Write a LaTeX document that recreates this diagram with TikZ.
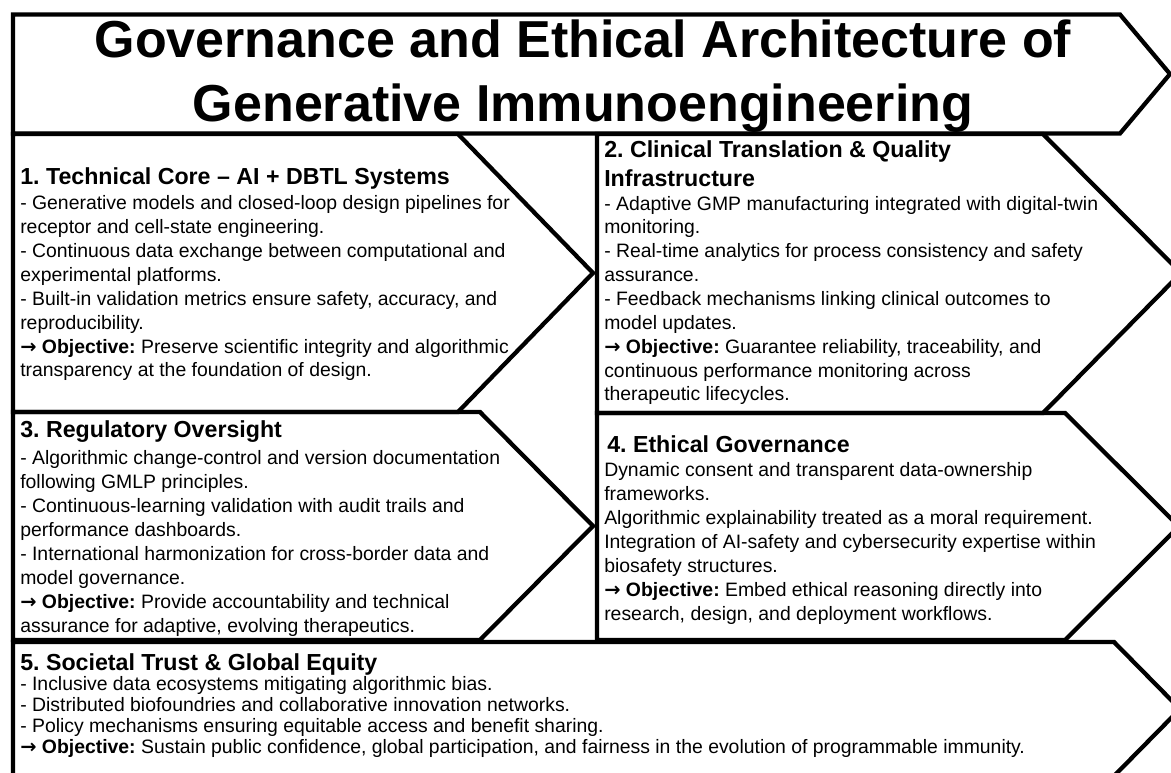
\documentclass[tikz,border=0pt]{standalone}
\usepackage{fontspec}
\setmainfont{Liberation Sans}
\newfontfamily\arrowfont{DejaVu Sans}
\newcommand{\objarrow}{{\arrowfont\bfseries →}}
\frenchspacing
\begin{document}
\begin{tikzpicture}[x=0.75pt,y=-0.75pt,
  panel/.style={draw=black,line width=3.2pt,line join=miter},
  titletext/.style={font=\fontsize{39}{48}\selectfont\bfseries,align=center,inner sep=0pt,anchor=base},
  headtext/.style={font=\fontsize{17.4}{21.75}\selectfont\bfseries,align=left,inner sep=0pt,anchor=base west},
  bodytext/.style={font=\fontsize{14.55}{17.9}\selectfont,align=left,inner sep=0pt,anchor=base west},
  tightbody/.style={bodytext,font=\fontsize{14.55}{15.75}\selectfont},
]
% canvas
\fill[white] (0,0) rectangle (1171,773);
\useasboundingbox (0,0) rectangle (1171,773);

% arrow-shaped panels
\draw[panel] (13,14.5) -- (1120,14.5) -- (1170,74) -- (1120,133.5) -- (13,133.5) -- cycle;
\draw[panel] (13,134) -- (458,134) -- (593,273) -- (458,412) -- (13,412) -- cycle;
\draw[panel] (597,134) -- (1043,134) -- (1181,273) -- (1043,413) -- (597,413) -- cycle;
\draw[panel] (13,412) -- (480,412) -- (593,526) -- (480,640) -- (13,640) -- cycle;
\draw[panel] (597,413) -- (1065,413) -- (1179,526.5) -- (1065,640) -- (597,640) -- cycle;
\draw[panel] (13,642) -- (1114,642) -- (1180,709) -- (1114,776) -- (13,776) -- cycle;

% multi-line nodes sit on the baseline of their last line
% title
\node[titletext] (title) at (583,122) {Governance and Ethical Architecture of\\Generative Immunoengineering};

% 1. technical core
\node[headtext] (h1) at (20,185) {1. Technical Core – AI + DBTL Systems};
\node[bodytext] (b1) at (20,377) {- Generative models and closed-loop design pipelines for\\
receptor and cell-state engineering.\\
- Continuous data exchange between computational and\\
experimental platforms.\\
- Built-in validation metrics ensure safety, accuracy, and\\
reproducibility.\\
\objarrow{} \textbf{Objective:} Preserve scientific integrity and algorithmic\\
transparency at the foundation of design.};

% 2. clinical translation
\node[headtext] (h2) at (604,158) {2. Clinical Translation \& Quality};
\node[headtext] (h2b) at (604,187) {Infrastructure};
\node[bodytext] (b2) at (604,401) {- Adaptive GMP manufacturing integrated with digital-twin\\
monitoring.\\
- Real-time analytics for process consistency and safety\\
assurance.\\
- Feedback mechanisms linking clinical outcomes to\\
model updates.\\
\objarrow{} \textbf{Objective:} Guarantee reliability, traceability, and\\
continuous performance monitoring across\\
therapeutic lifecycles.};

% 3. regulatory oversight
\node[headtext] (h3) at (20,438) {3. Regulatory Oversight};
\node[bodytext] (b3) at (20,632) {- Algorithmic change-control and version documentation\\
following GMLP principles.\\
- Continuous-learning validation with audit trails and\\
performance dashboards.\\
- International harmonization for cross-border data and\\
model governance.\\
\objarrow{} \textbf{Objective:} Provide accountability and technical\\
assurance for adaptive, evolving therapeutics.};

% 4. ethical governance
\node[headtext] (h4) at (607,452) {4. Ethical Governance};
\node[bodytext] (b4) at (604,620) {Dynamic consent and transparent data-ownership\\
frameworks.\\
Algorithmic explainability treated as a moral requirement.\\
Integration of AI-safety and cybersecurity expertise within\\
biosafety structures.\\
\objarrow{} \textbf{Objective:} Embed ethical reasoning directly into\\
research, design, and deployment workflows.};

% 5. societal trust
\node[headtext] (h5) at (20,670) {5. Societal Trust \& Global Equity};
\node[tightbody] (b5) at (20,753) {- Inclusive data ecosystems mitigating algorithmic bias.\\
- Distributed biofoundries and collaborative innovation networks.\\
- Policy mechanisms ensuring equitable access and benefit sharing.\\
\objarrow{} \textbf{Objective:} Sustain public confidence, global participation, and fairness in the evolution of programmable immunity.};
\end{tikzpicture}
\end{document}
